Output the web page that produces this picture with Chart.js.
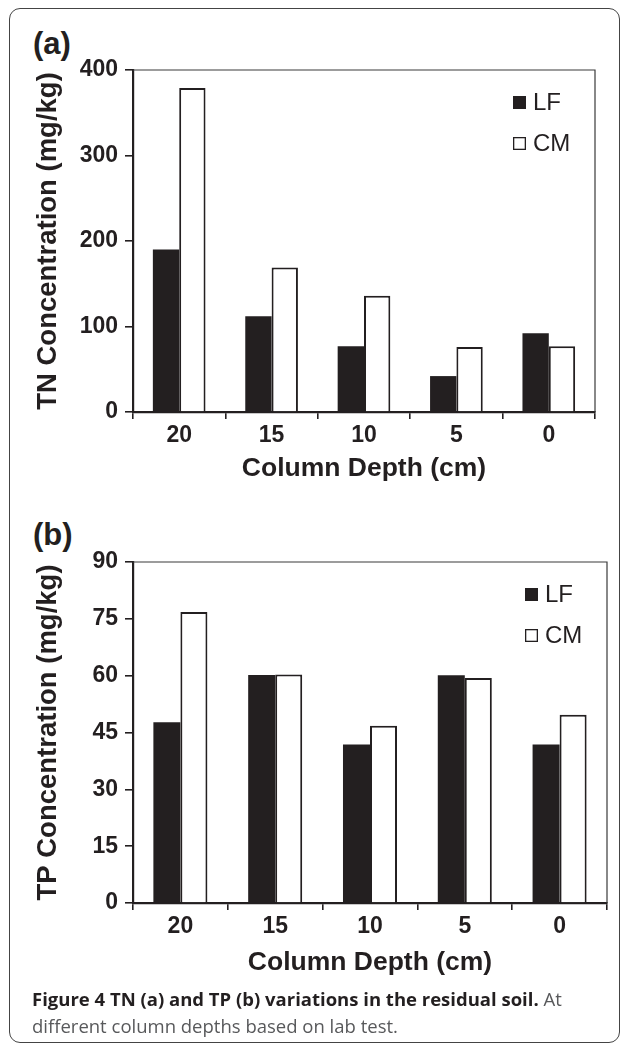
<!DOCTYPE html>
<html>
<head>
<meta charset="utf-8">
<script src="https://cdn.jsdelivr.net/npm/chart.js@4.4.1/dist/chart.umd.min.js"></script>
<style>
  html, body { margin: 0; padding: 0; background: #fff; }
  body { width: 627px; height: 1045px; position: relative; overflow: hidden; }
  .frame {
    position: absolute; left: 9px; top: 8px; width: 609px; height: 1033px;
    border: 1.5px solid #444; border-radius: 11px;
  }
  canvas { position: absolute; left: 0; }
  #chartA { top: 0; }
  #chartB { top: 500px; }
  .panel {
    position: absolute; left: 33px; font: bold 31px "Liberation Sans", Arial, sans-serif;
    color: #231f20; line-height: 1;
  }
  .caption {
    position: absolute; left: 32px; top: 985px; width: 590px; white-space: nowrap;
    font: 18.5px "Open Sans", sans-serif; line-height: 27px; color: #58595b;
  }
  .caption b { color: #231f20; }
</style>
</head>
<body>
<div class="frame"></div>
<div class="panel" style="top:28px">(a)</div>
<div class="panel" style="top:519px">(b)</div>
<canvas id="chartA" width="627" height="500"></canvas>
<canvas id="chartB" width="627" height="490"></canvas>
<div class="caption"><b>Figure 4 TN (a) and TP (b) variations in the residual soil.</b> At<br>different column depths based on lab test.</div>

<script>
const depths = ['20', '15', '10', '5', '0'];
const seriesNames = ['LF', 'CM'];

// TN (a), mg/kg
const tnLF = [190, 112, 77, 42, 92];
const tnCM = [379, 169, 136, 76, 77];
const tnMax = 400;
const tnStep = 100;

// TP (b), mg/kg
const tpLF = [47.7, 60.2, 41.8, 60.1, 41.8];
const tpCM = [76.8, 60.3, 46.8, 59.4, 49.7];
const tpMax = 90;
const tpStep = 15;

const INK = '#231f20';
const FONT = '"Liberation Sans", Arial, sans-serif';

// box around the plot + legend inside top right
const boxLegend = {
  id: 'boxLegend',
  beforeDatasetsDraw(chart) {
    const { ctx, chartArea: a } = chart;
    ctx.save();
    ctx.strokeStyle = '#3a3a3a';
    ctx.lineWidth = 1.2;
    ctx.beginPath();
    ctx.moveTo(a.left, a.top);
    ctx.lineTo(a.right, a.top);
    ctx.lineTo(a.right, a.bottom);
    ctx.stroke();
    ctx.restore();
  },
  afterDatasetsDraw(chart) {
    const { ctx, chartArea: a } = chart;
    const o = chart.options.plugins.boxLegend;
    ctx.save();
    ctx.font = '24px ' + FONT;
    ctx.textBaseline = 'middle';
    chart.data.datasets.forEach((ds, i) => {
      const x = a.right - o.right;
      const y = a.top + o.top + i * o.gap;
      ctx.fillStyle = ds.backgroundColor;
      ctx.fillRect(x, y, 13, 13);
      ctx.strokeStyle = INK;
      ctx.lineWidth = 1.3;
      ctx.strokeRect(x + 0.65, y + 0.65, 11.7, 11.7);
      ctx.fillStyle = INK;
      ctx.fillText(ds.label, x + 20, y + 7.5);
    });
    ctx.restore();
  }
};

function makeChart(id, lf, cm, yMax, yStep, yTitle, pad, xHeight, xTitlePad) {
  return new Chart(document.getElementById(id), {
    type: 'bar',
    data: {
      labels: depths,
      datasets: [
        { label: seriesNames[0], data: lf, backgroundColor: INK, borderColor: INK, borderWidth: 0 },
        { label: seriesNames[1], data: cm, backgroundColor: '#ffffff', borderColor: INK, borderWidth: 2, borderSkipped: 'bottom' }
      ]
    },
    options: {
      responsive: false,
      animation: false,
      layout: { padding: pad },
      datasets: { bar: { categoryPercentage: 0.57, barPercentage: 1.0 } },
      scales: {
        x: {
          offset: true,
          grid: { offset: true, drawOnChartArea: false, tickLength: 7, color: INK, lineWidth: 1.6 },
          border: { color: INK, width: 2.2 },
          ticks: { color: INK, font: { family: FONT, size: 23, weight: 'bold' }, padding: 3 },
          title: { display: true, text: 'Column Depth (cm)', color: INK,
                   font: { family: FONT, size: 26.5, weight: 'bold' }, padding: { top: 0, bottom: xTitlePad } },
          afterFit(s) { s.height = xHeight; }
        },
        y: {
          min: 0, max: yMax,
          grid: { drawOnChartArea: false, tickLength: 8, color: INK, lineWidth: 1.6 },
          border: { color: INK, width: 2.2 },
          ticks: { stepSize: yStep, color: INK, font: { family: FONT, size: 23, weight: 'bold' }, padding: 7 },
          title: { display: true, text: yTitle, color: INK,
                   font: { family: FONT, size: 27.5, weight: 'bold' }, padding: { top: 32, bottom: 0 } },
          afterFit(s) { s.width = 133; }
        }
      },
      plugins: {
        legend: { display: false },
        tooltip: { enabled: false },
        boxLegend: { right: 82, top: 26, gap: 41 }
      }
    },
    plugins: [boxLegend]
  });
}

makeChart('chartA', tnLF, tnCM, tnMax, tnStep, 'TN Concentration (mg/kg)',
  { left: 0, top: 70, right: 32, bottom: 0 }, 88, 15);
makeChart('chartB', tpLF, tpCM, tpMax, tpStep, 'TP Concentration (mg/kg)',
  { left: 0, top: 62, right: 20, bottom: 0 }, 87, 11);
</script>
</body>
</html>
